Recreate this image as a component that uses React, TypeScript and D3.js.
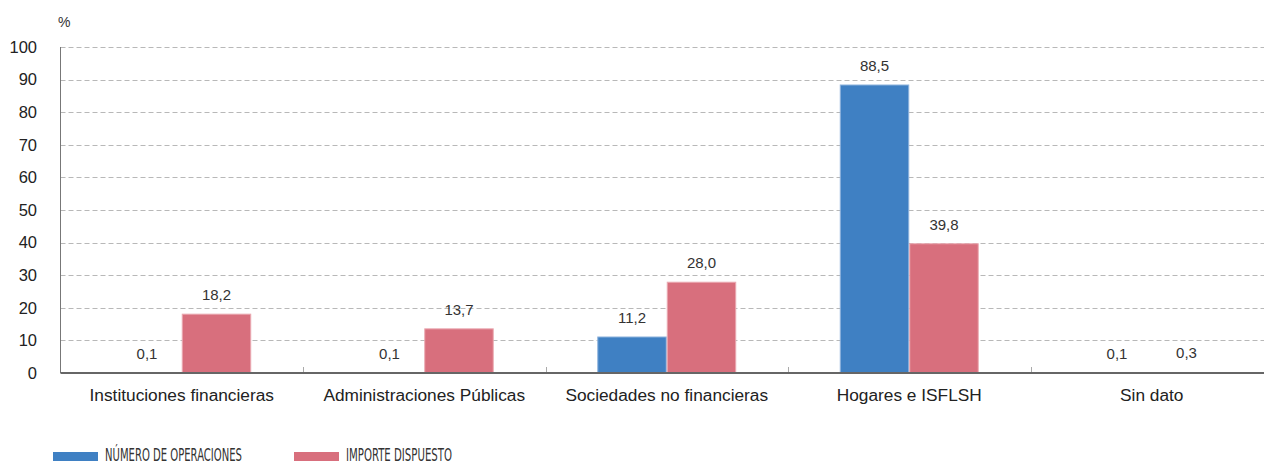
import React from "react";
import * as d3 from "d3";

const categories = [
  "Instituciones financieras",
  "Administraciones Públicas",
  "Sociedades no financieras",
  "Hogares e ISFLSH",
  "Sin dato",
];
const seriesNames = ["NÚMERO DE OPERACIONES", "IMPORTE DISPUESTO"];
const numeroOperaciones = [0.1, 0.1, 11.2, 88.5, 0.1];
const importeDispuesto = [18.2, 13.7, 28.0, 39.8, 0.3];
const yTicks = [0, 10, 20, 30, 40, 50, 60, 70, 80, 90, 100];
const colors = ["#3f80c3", "#d86f7d"];
const strokes = ["#8fb3dc", "#eaa9b1"];

const W = 1264;
const H = 464;
const left = 60.5;
const right = 1273;
const top = 47;
const bottom = 373;

export default function App() {
  const x = d3.scaleBand<string>().domain(categories).range([left, right]);
  const y = d3.scaleLinear().domain([0, 100]).range([bottom, top]);
  const inner = d3
    .scaleBand<number>()
    .domain([0, 1])
    .range([0, x.bandwidth()])
    .paddingOuter(0.745)
    .paddingInner(0);
  const series = [numeroOperaciones, importeDispuesto];
  const fmt = (v: number) => v.toFixed(1).replace(".", ",");
  const font = "'Helvetica Neue', 'Liberation Sans', Arial, sans-serif";

  return (
    <svg
      width={W}
      height={H}
      style={{ position: "absolute", left: 0, top: 0, display: "block" }}
      fontFamily={font}
    >
      <rect width={W} height={H} fill="#fff" />
      {yTicks.map((t) => (
        <g key={t}>
          {t > 0 && (
            <line
              x1={left}
              x2={W}
              y1={Math.round(y(t)) + 0.5}
              y2={Math.round(y(t)) + 0.5}
              stroke="#b8b8b8"
              strokeDasharray="5,3"
            />
          )}
          <text
            x={37}
            y={y(t)}
            dy="0.35em"
            textAnchor="end"
            fontSize={16.5}
            fill="#222"
          >
            {t}
          </text>
        </g>
      ))}
      <text x={58} y={27} fontSize={14} fill="#333">
        %
      </text>
      {categories.map((c, i) => (
        <g key={c}>
          {series.map((s, j) => {
            const bx = (x(c) as number) + (inner(j) as number);
            const v = s[i];
            return (
              <g key={j}>
                {v >= 1 && (
                  <rect
                    x={bx + 0.5}
                    y={y(v) + 0.5}
                    width={inner.bandwidth() - 1}
                    height={bottom - y(v) - 0.5}
                    fill={colors[j]}
                    stroke={strokes[j]}
                    strokeWidth={1}
                  />
                )}
                <text
                  x={bx + inner.bandwidth() / 2}
                  y={y(v) - 19}
                  dy="0.35em"
                  textAnchor="middle"
                  fontSize={15}
                  fill="#333"
                >
                  {fmt(v)}
                </text>
              </g>
            );
          })}
          <text
            x={(x(c) as number) + x.bandwidth() / 2}
            y={395}
            dy="0.35em"
            textAnchor="middle"
            fontSize={17.3}
            fill="#222"
          >
            {c}
          </text>
          {i > 0 && (
            <line
              x1={Math.round(x(c) as number) + 0.5}
              x2={Math.round(x(c) as number) + 0.5}
              y1={367}
              y2={bottom}
              stroke="#aaa"
            />
          )}
        </g>
      ))}
      <line x1={left} x2={left} y1={top} y2={bottom} stroke="#777" />
      <line x1={left} x2={W} y1={bottom} y2={bottom} stroke="#666" strokeWidth={2} />
      {seriesNames.map((n, j) => {
        const lx = j === 0 ? 53 : 294;
        return (
          <g key={n}>
            <rect x={lx} y={452} width={45} height={9} fill={colors[j]} />
            <text
              x={lx + 52}
              y={461}
              fontSize={17}
              fill="#333"
              fontFamily="'Liberation Sans Narrow', 'DejaVu Sans Condensed', sans-serif"
              textLength={j === 0 ? 137 : 106}
              lengthAdjust="spacingAndGlyphs"
            >
              {n}
            </text>
          </g>
        );
      })}
    </svg>
  );
}
